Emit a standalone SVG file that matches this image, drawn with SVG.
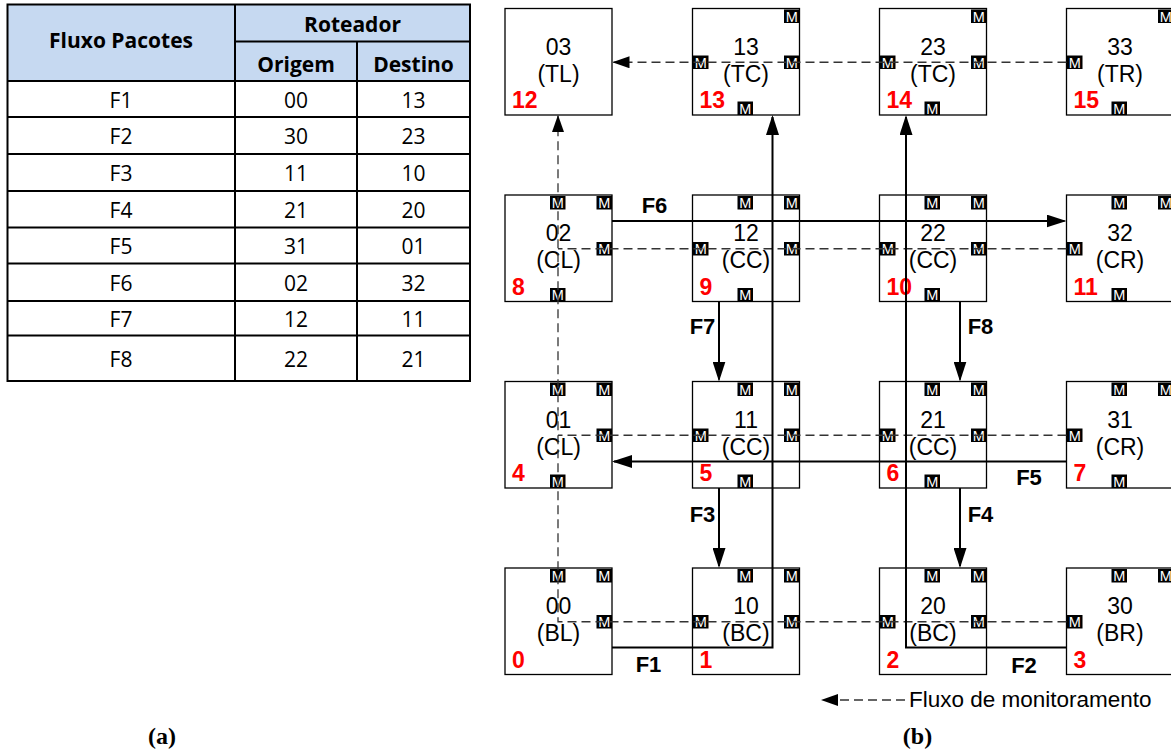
<svg xmlns="http://www.w3.org/2000/svg" width="1171" height="753" viewBox="0 0 1171 753">
<style>
.tbl-line{stroke:#000;stroke-width:2;fill:none}
.th{font-family:"Open Sans","Liberation Sans",sans-serif;font-size:21px;font-weight:bold;text-anchor:middle;fill:#000}
.td{font-family:"Open Sans","Liberation Sans",sans-serif;font-size:21px;text-anchor:middle;fill:#000}
.box{fill:#fff;stroke:#000;stroke-width:1.3}
.lbl{font-family:"Liberation Sans",Arial,sans-serif;font-size:23px;text-anchor:middle;fill:#000}
.red{font-family:"Liberation Sans",Arial,sans-serif;font-size:23px;font-weight:bold;fill:#ff0000}
.m rect{fill:#000}
.m text{font-family:"Liberation Sans",Arial,sans-serif;font-size:14.5px;fill:#fff;text-anchor:middle}
.dash{fill:none;stroke:#333;stroke-width:1.3;stroke-dasharray:9 5}
.flow{fill:none;stroke:#000;stroke-width:2}
.fl{font-family:"Liberation Sans",Arial,sans-serif;font-size:22px;font-weight:bold;text-anchor:middle;fill:#000}
.cap{font-family:"Liberation Serif","Times New Roman",serif;font-size:24px;font-weight:bold;text-anchor:middle;fill:#000}
</style>
<defs>
<marker id="ah" markerUnits="userSpaceOnUse" viewBox="0 0 20 13" refX="18" refY="6.5" markerWidth="20" markerHeight="13" orient="auto"><path d="M0,0 L20,6.5 L0,13 z" fill="#000"/></marker>
<marker id="ahd" markerUnits="userSpaceOnUse" viewBox="0 0 17 12" refX="16" refY="6" markerWidth="17" markerHeight="12" orient="auto"><path d="M0,0 L17,6 L0,12 z" fill="#000"/></marker>
</defs>
<rect width="1171" height="753" fill="#fff"/>

<g id="table">
<rect x="7.5" y="4.5" width="462.5" height="76.5" fill="#c6d9f1"/>
<rect class="tbl-line" x="7.5" y="4.5" width="462.5" height="376.5"/>
<path class="tbl-line" d="M235,41.5 H470 M7.5,81 H470 M7.5,117 H470 M7.5,154 H470 M7.5,191 H470 M7.5,227.5 H470 M7.5,263.5 H470 M7.5,301 H470 M7.5,335.5 H470 M235,4.5 V381 M357,41.5 V381"/>
<text class="th" x="121" y="48">Fluxo Pacotes</text>
<text class="th" x="352.5" y="32">Roteador</text>
<text class="th" x="296" y="72">Origem</text>
<text class="th" x="413.5" y="72">Destino</text>
<text class="td" x="121" y="107.5">F1</text><text class="td" x="296" y="107.5">00</text><text class="td" x="413.5" y="107.5">13</text>
<text class="td" x="121" y="144">F2</text><text class="td" x="296" y="144">30</text><text class="td" x="413.5" y="144">23</text>
<text class="td" x="121" y="181">F3</text><text class="td" x="296" y="181">11</text><text class="td" x="413.5" y="181">10</text>
<text class="td" x="121" y="217.5">F4</text><text class="td" x="296" y="217.5">21</text><text class="td" x="413.5" y="217.5">20</text>
<text class="td" x="121" y="254">F5</text><text class="td" x="296" y="254">31</text><text class="td" x="413.5" y="254">01</text>
<text class="td" x="121" y="290.5">F6</text><text class="td" x="296" y="290.5">02</text><text class="td" x="413.5" y="290.5">32</text>
<text class="td" x="121" y="326.5">F7</text><text class="td" x="296" y="326.5">12</text><text class="td" x="413.5" y="326.5">11</text>
<text class="td" x="121" y="366.5">F8</text><text class="td" x="296" y="366.5">22</text><text class="td" x="413.5" y="366.5">21</text>
</g>

<!-- Row 3 -->
<g id="node-03">
<rect class="box" x="505" y="8.5" width="107" height="106.5"/>
<text class="lbl" x="558.5" y="54.5">03</text><text class="lbl" x="558.5" y="81.5">(TL)</text>
<text class="red" x="512" y="108">12</text>
</g>
<g id="node-13">
<rect class="box" x="692.5" y="8.5" width="107" height="106.5"/>
<text class="lbl" x="746" y="54.5">13</text><text class="lbl" x="746" y="81.5">(TC)</text>
<text class="red" x="699.5" y="108">13</text>
<g class="m" transform="translate(784,9.5)"><rect width="15.5" height="13.5"/><text x="7.75" y="12">M</text></g>
<g class="m" transform="translate(693,55.5)"><rect width="15.5" height="13.5"/><text x="7.75" y="12">M</text></g>
<g class="m" transform="translate(784,55.5)"><rect width="15.5" height="13.5"/><text x="7.75" y="12">M</text></g>
<g class="m" transform="translate(737.5,101.5)"><rect width="15.5" height="13.5"/><text x="7.75" y="12">M</text></g>
</g>
<g id="node-23">
<rect class="box" x="879.5" y="8.5" width="107" height="106.5"/>
<text class="lbl" x="933" y="54.5">23</text><text class="lbl" x="933" y="81.5">(TC)</text>
<text class="red" x="886.5" y="108">14</text>
<g class="m" transform="translate(971,9.5)"><rect width="15.5" height="13.5"/><text x="7.75" y="12">M</text></g>
<g class="m" transform="translate(880,55.5)"><rect width="15.5" height="13.5"/><text x="7.75" y="12">M</text></g>
<g class="m" transform="translate(971,55.5)"><rect width="15.5" height="13.5"/><text x="7.75" y="12">M</text></g>
<g class="m" transform="translate(924.5,101.5)"><rect width="15.5" height="13.5"/><text x="7.75" y="12">M</text></g>
</g>
<g id="node-33">
<rect class="box" x="1066.5" y="8.5" width="107" height="106.5"/>
<text class="lbl" x="1120" y="54.5">33</text><text class="lbl" x="1120" y="81.5">(TR)</text>
<text class="red" x="1073.5" y="108">15</text>
<g class="m" transform="translate(1158,9.5)"><rect width="15.5" height="13.5"/><text x="7.75" y="12">M</text></g>
<g class="m" transform="translate(1067,55.5)"><rect width="15.5" height="13.5"/><text x="7.75" y="12">M</text></g>
<g class="m" transform="translate(1111.5,101.5)"><rect width="15.5" height="13.5"/><text x="7.75" y="12">M</text></g>
</g>

<!-- Row 2 -->
<g id="node-02">
<rect class="box" x="505" y="195" width="107" height="106.5"/>
<text class="lbl" x="558.5" y="241">02</text><text class="lbl" x="558.5" y="268">(CL)</text>
<text class="red" x="512" y="294.5">8</text>
<g class="m" transform="translate(550,196)"><rect width="15.5" height="13.5"/><text x="7.75" y="12">M</text></g>
<g class="m" transform="translate(596.5,196)"><rect width="15.5" height="13.5"/><text x="7.75" y="12">M</text></g>
<g class="m" transform="translate(596.5,242)"><rect width="15.5" height="13.5"/><text x="7.75" y="12">M</text></g>
<g class="m" transform="translate(550,288)"><rect width="15.5" height="13.5"/><text x="7.75" y="12">M</text></g>
</g>
<g id="node-12">
<rect class="box" x="692.5" y="195" width="107" height="106.5"/>
<text class="lbl" x="746" y="241">12</text><text class="lbl" x="746" y="268">(CC)</text>
<text class="red" x="699.5" y="294.5">9</text>
<g class="m" transform="translate(737.5,196)"><rect width="15.5" height="13.5"/><text x="7.75" y="12">M</text></g>
<g class="m" transform="translate(784,196)"><rect width="15.5" height="13.5"/><text x="7.75" y="12">M</text></g>
<g class="m" transform="translate(693,242)"><rect width="15.5" height="13.5"/><text x="7.75" y="12">M</text></g>
<g class="m" transform="translate(784,242)"><rect width="15.5" height="13.5"/><text x="7.75" y="12">M</text></g>
<g class="m" transform="translate(737.5,288)"><rect width="15.5" height="13.5"/><text x="7.75" y="12">M</text></g>
</g>
<g id="node-22">
<rect class="box" x="879.5" y="195" width="107" height="106.5"/>
<text class="lbl" x="933" y="241">22</text><text class="lbl" x="933" y="268">(CC)</text>
<text class="red" x="886.5" y="294.5">10</text>
<g class="m" transform="translate(924.5,196)"><rect width="15.5" height="13.5"/><text x="7.75" y="12">M</text></g>
<g class="m" transform="translate(971,196)"><rect width="15.5" height="13.5"/><text x="7.75" y="12">M</text></g>
<g class="m" transform="translate(880,242)"><rect width="15.5" height="13.5"/><text x="7.75" y="12">M</text></g>
<g class="m" transform="translate(971,242)"><rect width="15.5" height="13.5"/><text x="7.75" y="12">M</text></g>
<g class="m" transform="translate(924.5,288)"><rect width="15.5" height="13.5"/><text x="7.75" y="12">M</text></g>
</g>
<g id="node-32">
<rect class="box" x="1066.5" y="195" width="107" height="106.5"/>
<text class="lbl" x="1120" y="241">32</text><text class="lbl" x="1120" y="268">(CR)</text>
<text class="red" x="1073.5" y="294.5">11</text>
<g class="m" transform="translate(1111.5,196)"><rect width="15.5" height="13.5"/><text x="7.75" y="12">M</text></g>
<g class="m" transform="translate(1158,196)"><rect width="15.5" height="13.5"/><text x="7.75" y="12">M</text></g>
<g class="m" transform="translate(1067,242)"><rect width="15.5" height="13.5"/><text x="7.75" y="12">M</text></g>
<g class="m" transform="translate(1111.5,288)"><rect width="15.5" height="13.5"/><text x="7.75" y="12">M</text></g>
</g>

<!-- Row 1 -->
<g id="node-01">
<rect class="box" x="505" y="381.5" width="107" height="106.5"/>
<text class="lbl" x="558.5" y="427.5">01</text><text class="lbl" x="558.5" y="454.5">(CL)</text>
<text class="red" x="512" y="481">4</text>
<g class="m" transform="translate(550,382.5)"><rect width="15.5" height="13.5"/><text x="7.75" y="12">M</text></g>
<g class="m" transform="translate(596.5,382.5)"><rect width="15.5" height="13.5"/><text x="7.75" y="12">M</text></g>
<g class="m" transform="translate(596.5,428.5)"><rect width="15.5" height="13.5"/><text x="7.75" y="12">M</text></g>
<g class="m" transform="translate(550,474.5)"><rect width="15.5" height="13.5"/><text x="7.75" y="12">M</text></g>
</g>
<g id="node-11">
<rect class="box" x="692.5" y="381.5" width="107" height="106.5"/>
<text class="lbl" x="746" y="427.5">11</text><text class="lbl" x="746" y="454.5">(CC)</text>
<text class="red" x="699.5" y="481">5</text>
<g class="m" transform="translate(737.5,382.5)"><rect width="15.5" height="13.5"/><text x="7.75" y="12">M</text></g>
<g class="m" transform="translate(784,382.5)"><rect width="15.5" height="13.5"/><text x="7.75" y="12">M</text></g>
<g class="m" transform="translate(693,428.5)"><rect width="15.5" height="13.5"/><text x="7.75" y="12">M</text></g>
<g class="m" transform="translate(784,428.5)"><rect width="15.5" height="13.5"/><text x="7.75" y="12">M</text></g>
<g class="m" transform="translate(737.5,474.5)"><rect width="15.5" height="13.5"/><text x="7.75" y="12">M</text></g>
</g>
<g id="node-21">
<rect class="box" x="879.5" y="381.5" width="107" height="106.5"/>
<text class="lbl" x="933" y="427.5">21</text><text class="lbl" x="933" y="454.5">(CC)</text>
<text class="red" x="886.5" y="481">6</text>
<g class="m" transform="translate(924.5,382.5)"><rect width="15.5" height="13.5"/><text x="7.75" y="12">M</text></g>
<g class="m" transform="translate(971,382.5)"><rect width="15.5" height="13.5"/><text x="7.75" y="12">M</text></g>
<g class="m" transform="translate(880,428.5)"><rect width="15.5" height="13.5"/><text x="7.75" y="12">M</text></g>
<g class="m" transform="translate(971,428.5)"><rect width="15.5" height="13.5"/><text x="7.75" y="12">M</text></g>
<g class="m" transform="translate(924.5,474.5)"><rect width="15.5" height="13.5"/><text x="7.75" y="12">M</text></g>
</g>
<g id="node-31">
<rect class="box" x="1066.5" y="381.5" width="107" height="106.5"/>
<text class="lbl" x="1120" y="427.5">31</text><text class="lbl" x="1120" y="454.5">(CR)</text>
<text class="red" x="1073.5" y="481">7</text>
<g class="m" transform="translate(1111.5,382.5)"><rect width="15.5" height="13.5"/><text x="7.75" y="12">M</text></g>
<g class="m" transform="translate(1158,382.5)"><rect width="15.5" height="13.5"/><text x="7.75" y="12">M</text></g>
<g class="m" transform="translate(1067,428.5)"><rect width="15.5" height="13.5"/><text x="7.75" y="12">M</text></g>
<g class="m" transform="translate(1111.5,474.5)"><rect width="15.5" height="13.5"/><text x="7.75" y="12">M</text></g>
</g>

<!-- Row 0 -->
<g id="node-00">
<rect class="box" x="505" y="568" width="107" height="106.5"/>
<text class="lbl" x="558.5" y="614">00</text><text class="lbl" x="558.5" y="641">(BL)</text>
<text class="red" x="512" y="667.5">0</text>
<g class="m" transform="translate(550,569)"><rect width="15.5" height="13.5"/><text x="7.75" y="12">M</text></g>
<g class="m" transform="translate(596.5,569)"><rect width="15.5" height="13.5"/><text x="7.75" y="12">M</text></g>
<g class="m" transform="translate(596.5,615)"><rect width="15.5" height="13.5"/><text x="7.75" y="12">M</text></g>
</g>
<g id="node-10">
<rect class="box" x="692.5" y="568" width="107" height="106.5"/>
<text class="lbl" x="746" y="614">10</text><text class="lbl" x="746" y="641">(BC)</text>
<text class="red" x="699.5" y="667.5">1</text>
<g class="m" transform="translate(737.5,569)"><rect width="15.5" height="13.5"/><text x="7.75" y="12">M</text></g>
<g class="m" transform="translate(784,569)"><rect width="15.5" height="13.5"/><text x="7.75" y="12">M</text></g>
<g class="m" transform="translate(693,615)"><rect width="15.5" height="13.5"/><text x="7.75" y="12">M</text></g>
<g class="m" transform="translate(784,615)"><rect width="15.5" height="13.5"/><text x="7.75" y="12">M</text></g>
</g>
<g id="node-20">
<rect class="box" x="879.5" y="568" width="107" height="106.5"/>
<text class="lbl" x="933" y="614">20</text><text class="lbl" x="933" y="641">(BC)</text>
<text class="red" x="886.5" y="667.5">2</text>
<g class="m" transform="translate(924.5,569)"><rect width="15.5" height="13.5"/><text x="7.75" y="12">M</text></g>
<g class="m" transform="translate(971,569)"><rect width="15.5" height="13.5"/><text x="7.75" y="12">M</text></g>
<g class="m" transform="translate(880,615)"><rect width="15.5" height="13.5"/><text x="7.75" y="12">M</text></g>
<g class="m" transform="translate(971,615)"><rect width="15.5" height="13.5"/><text x="7.75" y="12">M</text></g>
</g>
<g id="node-30">
<rect class="box" x="1066.5" y="568" width="107" height="106.5"/>
<text class="lbl" x="1120" y="614">30</text><text class="lbl" x="1120" y="641">(BR)</text>
<text class="red" x="1073.5" y="667.5">3</text>
<g class="m" transform="translate(1111.5,569)"><rect width="15.5" height="13.5"/><text x="7.75" y="12">M</text></g>
<g class="m" transform="translate(1158,569)"><rect width="15.5" height="13.5"/><text x="7.75" y="12">M</text></g>
<g class="m" transform="translate(1067,615)"><rect width="15.5" height="13.5"/><text x="7.75" y="12">M</text></g>
</g>

<g id="connectors">
<path class="dash" d="M1066.5,62.25 H613.5" marker-end="url(#ahd)"/>
<path class="dash" d="M1066.5,248.75 H558"/>
<path class="dash" d="M1066.5,435.25 H558"/>
<path class="dash" d="M1066.5,621.75 H558 V116" marker-end="url(#ahd)"/>
<path class="flow" d="M612,221 H1064.5" marker-end="url(#ah)"/>
<path class="flow" d="M1066.5,461.5 H614" marker-end="url(#ah)"/>
<path class="flow" d="M612,647.5 H772.5 V117" marker-end="url(#ah)"/>
<path class="flow" d="M1066.5,647.5 H906 V117" marker-end="url(#ah)"/>
<path class="flow" d="M719,301.5 V379.5" marker-end="url(#ah)"/>
<path class="flow" d="M960,301.5 V379.5" marker-end="url(#ah)"/>
<path class="flow" d="M719,488 V566" marker-end="url(#ah)"/>
<path class="flow" d="M960,488 V566" marker-end="url(#ah)"/>
<text class="fl" x="654.5" y="213">F6</text>
<text class="fl" x="1029" y="485">F5</text>
<text class="fl" x="648.5" y="672">F1</text>
<text class="fl" x="1024" y="673">F2</text>
<text class="fl" x="702.5" y="334">F7</text>
<text class="fl" x="980.5" y="334">F8</text>
<text class="fl" x="702.5" y="521.5">F3</text>
<text class="fl" x="980.5" y="521.5">F4</text>
</g>

<g id="legend">
<path class="dash" d="M905,700 H822" marker-end="url(#ahd)"/>
<text x="909" y="707" font-family="'Liberation Sans',Arial,sans-serif" font-size="22.5px" fill="#000">Fluxo de monitoramento</text>
</g>

<text class="cap" x="162" y="744">(a)</text>
<text class="cap" x="917.5" y="744">(b)</text>
</svg>
